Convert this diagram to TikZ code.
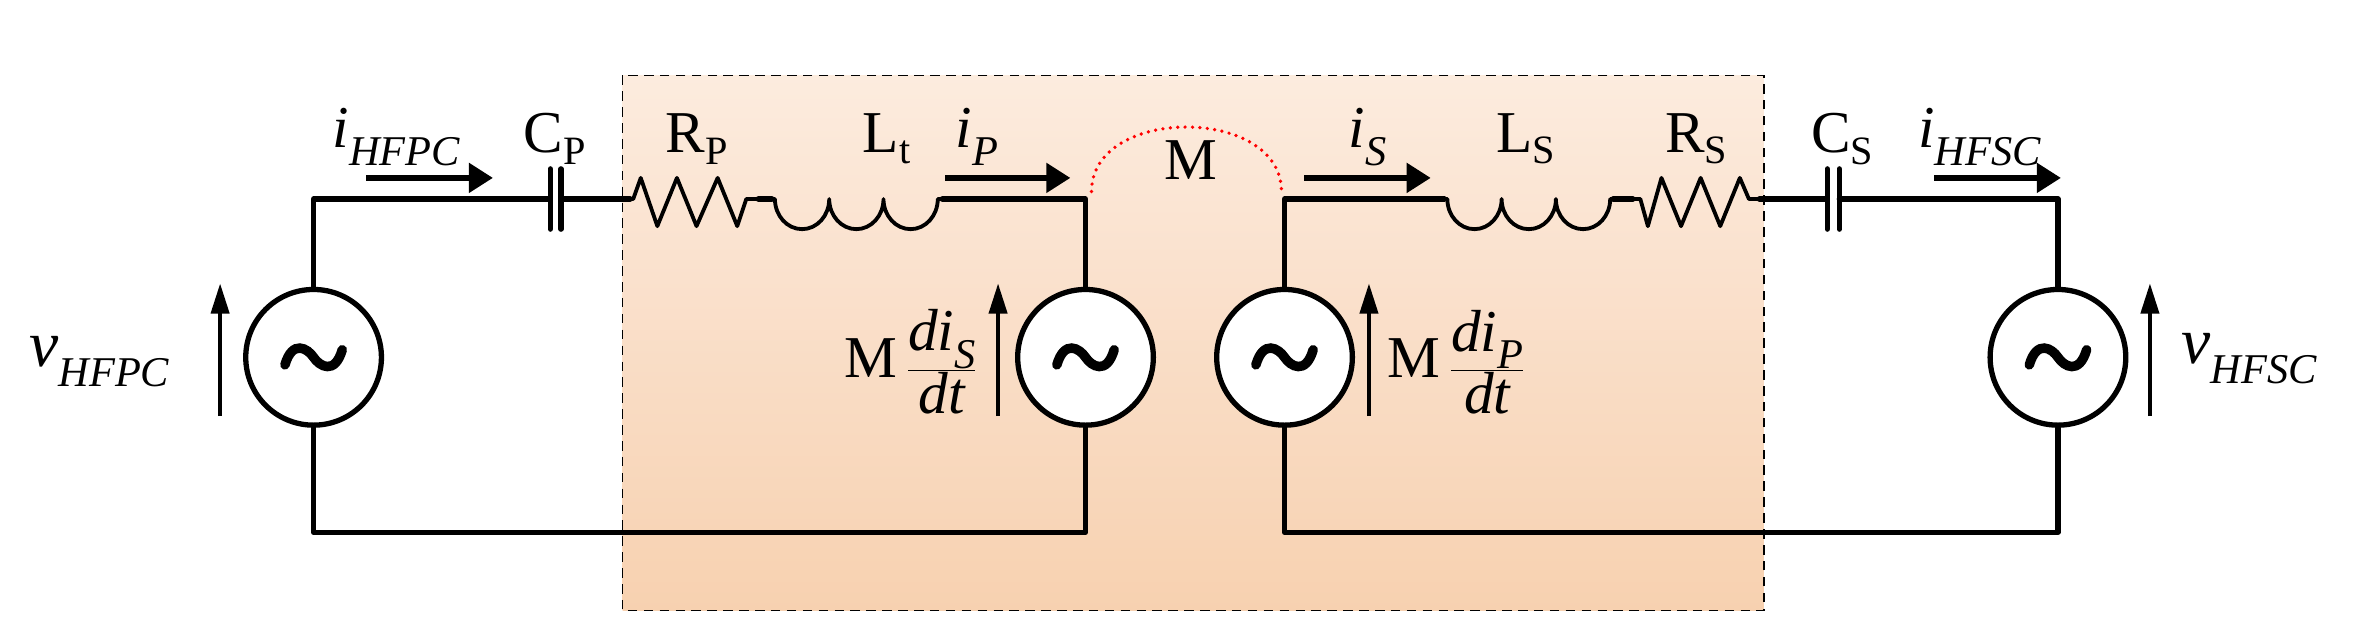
\documentclass[tikz,border=0pt]{standalone}
\usepackage{fontspec}
\setmainfont{Liberation Serif}
\usetikzlibrary{arrows.meta}
\pgfdeclareverticalshading{peach}{100bp}{rgb(0bp)=(0.98,0.88,0.80); rgb(25bp)=(0.97,0.82,0.69); rgb(55bp)=(0.98,0.88,0.80); rgb(100bp)=(1,0.98,0.96)}
\newcommand{\sbs}[1]{\raisebox{-0.3em}{\fontsize{40}{42}\selectfont\textit{#1}}}
\newcommand{\sbu}[1]{\raisebox{-0.2em}{\fontsize{38}{40}\selectfont #1}}
\begin{document}
\begin{tikzpicture}[x=0.05cm,y=-0.05cm,
  wire/.style={line width=5pt, line cap=round, line join=round},
  thin wire/.style={line width=3.6pt, line join=round},
  src/.style={circle, draw, line width=5pt, minimum size=4.5cm, fill=white, inner sep=0pt},
  cur/.style={line width=6pt, -{Triangle[length=0.8cm,width=0.95cm]}},
  volt/.style={line width=3.6pt, -{Triangle[length=1.0cm,width=0.6cm]}},
  lbl/.style={font=\fontsize{56}{62}\selectfont, inner sep=0pt},
  tilde/.pic={\draw[line width=9pt, line cap=round] (-19,5) .. controls (-14,-12) and (-4,-6) .. (0,0) .. controls (4,6) and (14,12) .. (19,-5);}
]
\useasboundingbox (0,0) rectangle (1568,426);
\shade[shading=peach] (413,50) rectangle (1170,405);
\draw[line width=1.5pt, dash pattern=on 9pt off 6pt] (413,50) rectangle (1170,405);

\node[src] (s1) at (208,237) {};
\node[src] (s2) at (720,237) {};
\node[src] (s3) at (852,237) {};
\node[src] (s4) at (1365,237) {};
\foreach \s in {s1,s2,s3,s4} \pic at (\s) {tilde};

% left loop
\coordinate (tl1) at (208,132);
\coordinate (cp1) at (365,132); \coordinate (cp2) at (372,132);
\coordinate (rp1) at (418,132); \coordinate (rp2) at (503,132);
\coordinate (lt1) at (512,132); \coordinate (lt2) at (625,132);
\coordinate (tr1) at (720,132);
\coordinate (bl1) at (208,353); \coordinate (br1) at (720,353);
\draw[wire] (s1.north) -- (tl1) -- (cp1);
\draw[wire] (365,112) -- (365,152) (372,112) -- (372,152);
\draw[wire] (cp2) -- (rp1);
\draw[thin wire] (rp1) -- (420,132) -- (425,118) -- (436,150) -- (449,118) -- (462,150) -- (476,118) -- (489,150) -- (495,132) -- (rp2);
\draw[wire] (rp2) -- (lt1);
\draw[thin wire] (lt1) -- (514,132) arc[start angle=180,end angle=0,x radius=18,y radius=20] arc[start angle=180,end angle=0,x radius=18,y radius=20] arc[start angle=180,end angle=0,x radius=18,y radius=20] -- (lt2);
\draw[wire] (lt2) -- (tr1) -- (s2.north);
\draw[wire] (s1.south) -- (bl1) -- (br1) -- (s2.south);

% right loop
\coordinate (tl2) at (852,132);
\coordinate (ls1) at (958,132); \coordinate (ls2) at (1070,132);
\coordinate (rs1) at (1083,132); \coordinate (rs2) at (1167,132);
\coordinate (cs1) at (1212,132); \coordinate (cs2) at (1220,132);
\coordinate (tr2) at (1365,132);
\coordinate (bl2) at (852,353); \coordinate (br2) at (1365,353);
\draw[wire] (s3.north) -- (tl2) -- (ls1);
\draw[thin wire] (ls1) -- (960,132) arc[start angle=180,end angle=0,x radius=18,y radius=20] arc[start angle=180,end angle=0,x radius=18,y radius=20] arc[start angle=180,end angle=0,x radius=18,y radius=20] -- (ls2);
\draw[wire] (ls2) -- (rs1);
\draw[thin wire] (rs1) -- (1088,132) -- (1093,150) -- (1102,118) -- (1115,150) -- (1128,118) -- (1141,150) -- (1154,118) -- (1160,132) -- (rs2);
\draw[wire] (rs2) -- (cs1);
\draw[wire] (1212,112) -- (1212,152) (1220,112) -- (1220,152);
\draw[wire] (cs2) -- (tr2) -- (s4.north);
\draw[wire] (s3.south) -- (bl2) -- (br2) -- (s4.south);

% mutual coupling
\coordinate (m1) at (724,127); \coordinate (m2) at (850,127);
\draw[red, line width=3.5pt, dash pattern=on 0pt off 7pt, line cap=round] (m1) .. controls (724,70) and (850,70) .. (m2);
\node[lbl] (M) at (790,106) {M};

% current arrows
\coordinate (a1) at (243,118); \coordinate (a2) at (327,118);
\coordinate (a3) at (627,118); \coordinate (a4) at (710,118);
\coordinate (a5) at (865,118); \coordinate (a6) at (949,118);
\coordinate (a7) at (1283,118); \coordinate (a8) at (1367,118);
\draw[cur] (a1) -- (a2);
\draw[cur] (a3) -- (a4);
\draw[cur] (a5) -- (a6);
\draw[cur] (a7) -- (a8);

\node[lbl] (iHFPC) at (263,91) {\textit{i}\sbs{HFPC}};
\node[lbl] (CP) at (368,92) {C\sbu{P}};
\node[lbl] (RP) at (462,92) {R\sbu{P}};
\node[lbl] (Lt) at (588,92) {L\sbu{t}};
\node[lbl] (iP) at (648,91) {\textit{i}\sbs{P}};
\node[lbl] (iS) at (907,91) {\textit{i}\sbs{S}};
\node[lbl] (LS) at (1012,92) {L\sbu{S}};
\node[lbl] (RS) at (1125,92) {R\sbu{S}};
\node[lbl] (CS) at (1222,92) {C\sbu{S}};
\node[lbl] (iHFSC) at (1313,91) {\textit{i}\sbs{HFSC}};

\coordinate (v1a) at (146,276); \coordinate (v1b) at (146,188);
\coordinate (v2a) at (662,276); \coordinate (v2b) at (662,188);
\coordinate (v3a) at (908,276); \coordinate (v3b) at (908,188);
\coordinate (v4a) at (1426,276); \coordinate (v4b) at (1426,188);
\draw[volt] (v1a) -- (v1b);
\draw[volt] (v2a) -- (v2b);
\draw[volt] (v3a) -- (v3b);
\draw[volt] (v4a) -- (v4b);

\node[lbl, font=\fontsize{62}{66}\selectfont] (vHFPC) at (66,240) {\textit{v}\sbs{HFPC}};
\node[lbl, font=\fontsize{62}{66}\selectfont] (vHFSC) at (1492,238) {\textit{v}\sbs{HFSC}};
\node[lbl, anchor=east] (MdS) at (648,240) {M\,$\displaystyle\frac{\textit{di}\sbs{S}}{\textit{dt}}$};
\node[lbl, anchor=west] (MdP) at (920,240) {M\,$\displaystyle\frac{\textit{di}\sbs{P}}{\textit{dt}}$};
\end{tikzpicture}
\end{document}
